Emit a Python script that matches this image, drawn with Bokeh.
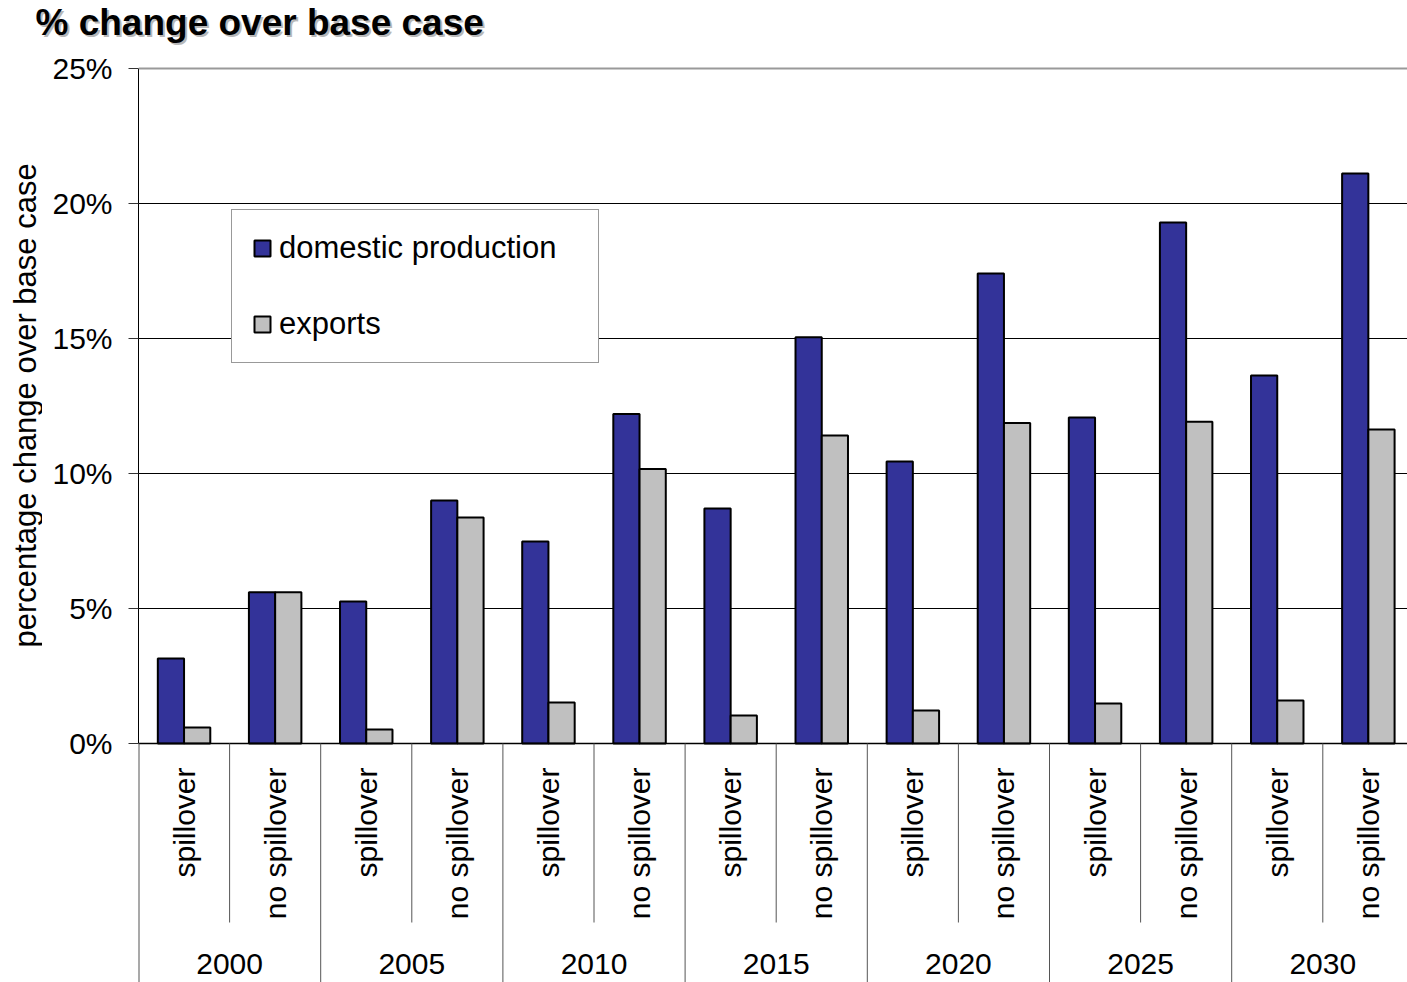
import math
from bokeh.plotting import figure
from bokeh.models import (Range1d, FixedTicker, PrintfTickFormatter, Legend, LegendItem,
                          ColumnDataSource, Span)
from bokeh.layouts import column, row
from bokeh.core.properties import value
from bokeh.embed import file_html
from bokeh.resources import INLINE

# ---------------- data ----------------
years = ["2000", "2005", "2010", "2015", "2020", "2025", "2030"]
scenarios = ["spillover", "no spillover"]
domestic = [3.15, 5.6, 5.26, 9.0, 7.48, 12.2, 8.7, 15.05, 10.44, 17.41, 12.07, 19.3, 13.63, 21.11]
exports = [0.59, 5.6, 0.52, 8.37, 1.52, 10.17, 1.04, 11.41, 1.22, 11.87, 1.48, 11.92, 1.59, 11.63]
y_ticks = [0, 5, 10, 15, 20, 25]
series_names = ["domestic production", "exports"]
title_text = "% change over base case"
y_title = "percentage change over base case"

FONT = "Liberation Sans"
W, H = 1407, 982
TITLE_H = 46           # height of the title strip
STRIP_W = 42           # width of the y-title strip
LEFT, TOP = 138, 65    # frame left / top on the page
ZERO_PX = 743          # page y of the 0% line
CAT_PX = 91.1          # px per category
PX = 27.0              # px per 1 %

n = len(domestic)
cat_labels = [s for _ in years for s in scenarios]
centers = [i + 0.5 for i in range(n)]
bw = 0.288

src = ColumnDataSource(dict(
    xd=[c - bw / 2 for c in centers],
    xe=[c + bw / 2 for c in centers],
    dom=domestic,
    exp=exports,
))


def bare(width, height, xr, yr):
    f = figure(width=width, height=height, x_range=xr, y_range=yr,
               x_axis_type=None, y_axis_type=None, output_backend="svg",
               toolbar_location=None, min_border=0)
    f.outline_line_color = None
    f.background_fill_color = "white"
    f.border_fill_color = "white"
    return f


# ---------------- title strip ----------------
tfig = bare(W, TITLE_H, Range1d(0, W), Range1d(TITLE_H, 0))
tfig.text(x=[37, 35], y=[24, 22], text=[title_text, title_text],
          text_color=["#b8b8b8", "black"], text_align="left", text_baseline="middle",
          text_font=value(FONT), text_font_size="37px", text_font_style="bold")

# ---------------- y-title strip ----------------
body_h = H - TITLE_H
lfig = bare(STRIP_W, body_h, Range1d(0, STRIP_W), Range1d(body_h, 0))
lfig.text(x=[25], y=[(TOP + ZERO_PX) / 2 - TITLE_H - 11], text=[y_title], angle=math.pi / 2,
          text_align="center", text_baseline="middle",
          text_font=value(FONT), text_font_size="31px", text_color="black")

# ---------------- main chart ----------------
y_top = (ZERO_PX - TOP) / PX
y_bot = -(H - ZERO_PX) / PX

p = figure(width=W - STRIP_W, height=body_h, x_range=Range1d(0, (W - LEFT) / CAT_PX),
           y_range=Range1d(y_bot, y_top),
           x_axis_type=None, output_backend="svg", toolbar_location=None,
           min_border_left=LEFT - STRIP_W, min_border_right=0,
           min_border_top=TOP - TITLE_H, min_border_bottom=0)
p.outline_line_color = None
p.background_fill_color = "white"
p.border_fill_color = "white"

# grid
p.xgrid.visible = False
p.ygrid.ticker = FixedTicker(ticks=[5, 10, 15, 20])
p.ygrid.grid_line_color = "black"
p.ygrid.grid_line_width = 1
p.add_layout(Span(location=25, dimension="width", line_color="#999999", line_width=2))

# y axis
yax = p.yaxis[0]
yax.ticker = FixedTicker(ticks=y_ticks)
yax.formatter = PrintfTickFormatter(format="%d%%")
yax.bounds = (0, 25)
yax.axis_line_color = "black"
yax.axis_line_width = 1
yax.major_tick_line_color = "#333333"
yax.major_tick_out = 10
yax.major_tick_in = 0
yax.minor_tick_line_color = None
yax.major_label_standoff = 16
yax.major_label_text_font = FONT
yax.major_label_text_font_size = "30px"
yax.major_label_text_color = "black"

# bars
r1 = p.vbar(x="xd", top="dom", bottom=0, width=bw, source=src,
            fill_color="#333399", line_color="black", line_width=2)
r2 = p.vbar(x="xe", top="exp", bottom=0, width=bw, source=src,
            fill_color="#C0C0C0", line_color="black", line_width=2)

# legend
legend = Legend(items=[LegendItem(label=series_names[0], renderers=[r1]),
                       LegendItem(label=series_names[1], renderers=[r2])],
                location=(231 - LEFT, H - 363), orientation="vertical",
                padding=20, spacing=40, margin=0,
                glyph_width=20, glyph_height=20, label_standoff=7, label_width=299,
                label_text_font=FONT, label_text_font_size="31px", label_text_color="black",
                border_line_color="#333333", border_line_width=1.5,
                background_fill_color="white", background_fill_alpha=1.0)
p.add_layout(legend, "center")

# category table below the 0% line
p.segment(x0=[0], y0=[0], x1=[n], y1=[0], line_color="black", line_width=1.5)
sep_x = list(range(0, n))
sep_y1 = [y_bot if i % 2 == 0 else -179 / PX for i in sep_x]
sep_w = [2 if i == 0 else 1 for i in sep_x]
p.segment(x0=sep_x, y0=[0] * n, x1=sep_x, y1=sep_y1,
          line_color="#555555", line_width=sep_w)

p.text(x=centers, y=[-24 / PX] * n, text=cat_labels, angle=math.pi / 2,
       text_align="right", text_baseline="middle",
       text_font=value(FONT), text_font_size="30px", text_color="black")

p.text(x=[2 * j + 1 for j in range(len(years))], y=[-220 / PX] * len(years), text=years,
       text_align="center", text_baseline="middle",
       text_font=value(FONT), text_font_size="30px", text_color="black")

layout = column(tfig, row(lfig, p, spacing=0), spacing=0)
open("out.html", "w").write(file_html(layout, INLINE))
